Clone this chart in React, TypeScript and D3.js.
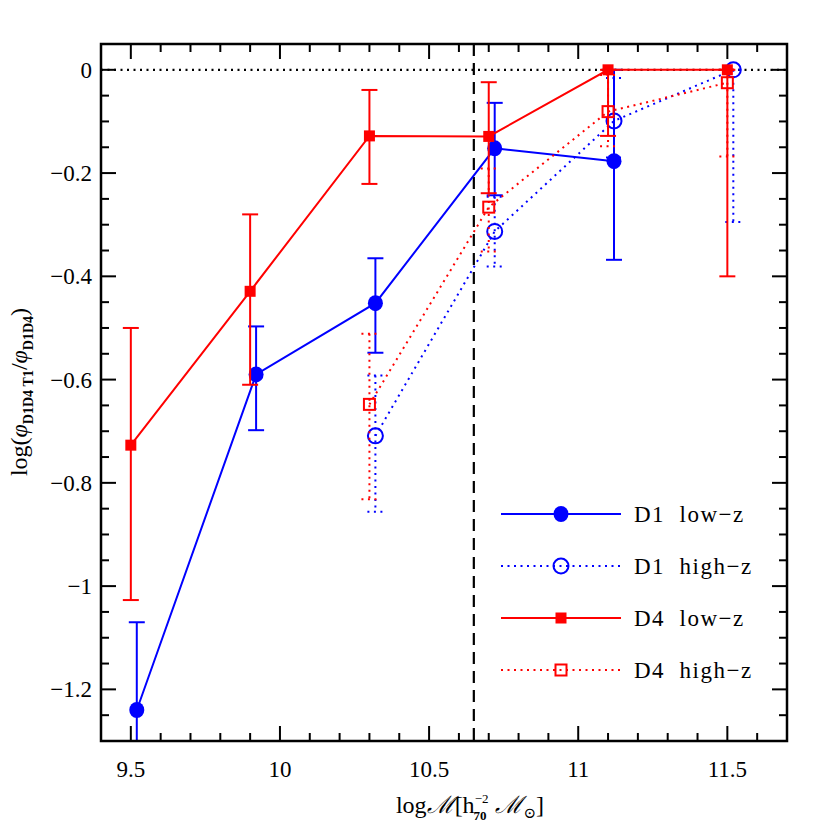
import React from "react"
import * as d3 from "d3"

// mass bins (log M) and log(phi ratio) values
const massD1Low = [9.52, 9.92, 10.32, 10.72, 11.12]
const ratioD1Low = [-1.24, -0.59, -0.452, -0.152, -0.177]
const upD1Low = [-1.07, -0.497, -0.365, -0.064, 0.0]
const downD1Low = [-1.45, -0.698, -0.548, -0.243, -0.368]

const massD1High = [10.32, 10.72, 11.12, 11.52]
const ratioD1High = [-0.709, -0.313, -0.099, 0.0]
const upD1High = [-0.592, -0.246, -0.016, 0.0]
const downD1High = [-0.856, -0.381, -0.17, -0.295]

const massD4Low = [9.5, 9.9, 10.3, 10.7, 11.1, 11.5]
const ratioD4Low = [-0.727, -0.429, -0.128, -0.129, 0.0, 0.0]
const upD4Low = [-0.5, -0.28, -0.039, -0.024, 0.0, 0.0]
const downD4Low = [-1.027, -0.61, -0.221, -0.239, -0.128, -0.4]

const massD4High = [10.3, 10.7, 11.1, 11.5]
const ratioD4High = [-0.648, -0.266, -0.081, -0.025]
const upD4High = [-0.511, -0.191, -0.01, 0.0]
const downD4High = [-0.832, -0.352, -0.148, -0.168]

const xTickLabels = [9.5, 10, 10.5, 11, 11.5]
const yTickLabels = [0, -0.2, -0.4, -0.6, -0.8, -1, -1.2]
const massLimit = 10.65

const legendNames = ["D1\u00a0\u00a0low\u2212z", "D1\u00a0\u00a0high\u2212z", "D4\u00a0\u00a0low\u2212z", "D4\u00a0\u00a0high\u2212z"]

const margin = {top: 44, right: 43, bottom: 89, left: 101}
const W = 830, H = 830
const width = W - margin.left - margin.right
const height = H - margin.top - margin.bottom

const BLUE = "#0000ff", RED = "#ff0000"
const DOT = "2 4.5"
const FONT = "'Liberation Serif', 'DejaVu Serif', serif"

const fmt = (v: number) => (v < 0 ? "\u2212" : "") + String(Math.abs(v))

type Series = {
    mass: number[], ratio: number[], up: number[], down: number[],
    color: string, dotted: boolean, marker: string
}

const series: Series[] = [
    {mass: massD1Low, ratio: ratioD1Low, up: upD1Low, down: downD1Low, color: BLUE, dotted: false, marker: "circleFilled"},
    {mass: massD1High, ratio: ratioD1High, up: upD1High, down: downD1High, color: BLUE, dotted: true, marker: "circleOpen"},
    {mass: massD4Low, ratio: ratioD4Low, up: upD4Low, down: downD4Low, color: RED, dotted: false, marker: "squareFilled"},
    {mass: massD4High, ratio: ratioD4High, up: upD4High, down: downD4High, color: RED, dotted: true, marker: "squareOpen"},
]

const Marker = ({kind, cx, cy, color}: {kind: string, cx: number, cy: number, color: string}) => {
    if (kind === "circleFilled") return <ellipse cx={cx} cy={cy} rx={7.5} ry={8} fill={color}/>
    if (kind === "circleOpen") return <circle cx={cx} cy={cy} r={7.5} fill="none" stroke={color} strokeWidth={2}/>
    if (kind === "squareFilled") return <rect x={cx - 5.5} y={cy - 5.5} width={11} height={11} fill={color}/>
    return <rect x={cx - 5.5} y={cy - 5.5} width={11} height={11} fill="none" stroke={color} strokeWidth={2}/>
}

export default function App() {
    const x = d3.scaleLinear().domain([9.4, 11.7]).range([0, width])
    const y = d3.scaleLinear().domain([-1.3, 0.05]).range([height, 0])

    const xMinor = d3.range(9.4, 11.701, 0.1)
    const yMinor = d3.range(-1.3, 0.0501, 0.05)
    const isMajor = (v: number, step: number) => Math.abs(v / step - Math.round(v / step)) < 1e-6

    return (
        <svg width={W} height={H} style={{position: "absolute", left: 0, top: 0, background: "#fff"}}
             fontFamily={FONT}>
            <defs>
                <clipPath id="plotArea"><rect x={0} y={0} width={width} height={height}/></clipPath>
            </defs>
            <g transform={`translate(${margin.left},${margin.top})`}>
                <g clipPath="url(#plotArea)">
                    {/* reference lines */}
                    <line x1={0} x2={width} y1={y(0)} y2={y(0)} stroke="#000" strokeWidth={2.2} strokeDasharray="2 4.5"/>
                    <line x1={x(massLimit)} x2={x(massLimit)} y1={0} y2={height} stroke="#000" strokeWidth={2.2} strokeDasharray="12 7"/>

                    {series.map((s, si) => {
                        const pts = s.mass.map((m, i) => [x(m), y(s.ratio[i])] as [number, number])
                        const dash = s.dotted ? DOT : undefined
                        return (
                            <g key={si}>
                                <path d={d3.line()(pts) || ""} fill="none" stroke={s.color} strokeWidth={2}
                                      strokeDasharray={dash}/>
                                {s.mass.map((m, i) => (
                                    <g key={i} stroke={s.color} strokeWidth={2} strokeDasharray={dash}>
                                        <line x1={x(m)} x2={x(m)} y1={y(s.up[i])} y2={y(s.down[i])}/>
                                        <line x1={x(m) - 8} x2={x(m) + 8} y1={y(s.up[i])} y2={y(s.up[i])}/>
                                        <line x1={x(m) - 8} x2={x(m) + 8} y1={y(s.down[i])} y2={y(s.down[i])}/>
                                    </g>
                                ))}
                                {pts.map((p, i) => <Marker key={i} kind={s.marker} cx={p[0]} cy={p[1]} color={s.color}/>)}
                            </g>
                        )
                    })}
                </g>

                {/* ticks on all four sides */}
                {xMinor.map((v, i) => {
                    const len = isMajor(v, 0.5) ? 15 : 8
                    return (
                        <g key={"xt" + i} stroke="#000" strokeWidth={2}>
                            <line x1={x(v)} x2={x(v)} y1={height} y2={height - len}/>
                            <line x1={x(v)} x2={x(v)} y1={0} y2={len}/>
                        </g>
                    )
                })}
                {yMinor.map((v, i) => {
                    const len = isMajor(v, 0.2) ? 15 : 8
                    return (
                        <g key={"yt" + i} stroke="#000" strokeWidth={2}>
                            <line x1={0} x2={len} y1={y(v)} y2={y(v)}/>
                            <line x1={width} x2={width - len} y1={y(v)} y2={y(v)}/>
                        </g>
                    )
                })}
                <rect x={0} y={0} width={width} height={height} fill="none" stroke="#000" strokeWidth={2.5}/>

                {xTickLabels.map(v => (
                    <text key={v} x={x(v)} y={height + 36} textAnchor="middle" fontSize={23}>{fmt(v)}</text>
                ))}
                {yTickLabels.map(v => (
                    <text key={v} x={-9} y={y(v) + 8} textAnchor="end" fontSize={23}>{fmt(v)}</text>
                ))}

                {/* legend */}
                {series.map((s, i) => {
                    const ly = 470 + i * 52
                    return (
                        <g key={"lg" + i}>
                            <line x1={400} x2={520} y1={ly} y2={ly} stroke={s.color} strokeWidth={2}
                                  strokeDasharray={s.dotted ? DOT : undefined}/>
                            <Marker kind={s.marker} cx={460} cy={ly} color={s.color}/>
                            <text x={533} y={ly + 8} fontSize={23} letterSpacing={1.5}>{legendNames[i]}</text>
                        </g>
                    )
                })}
            </g>

            {/* axis titles */}
            <text x={470} y={813} textAnchor="middle" fontSize={24}>
                <tspan>log</tspan><tspan fontStyle="italic">{"\u2133"}</tspan><tspan>[h</tspan>
                <tspan fontSize={13} dy={-10}>{"\u22122"}</tspan>
                <tspan fontSize={13} fontWeight="bold" dx={-15} dy={17}>70</tspan>
                <tspan fontStyle="italic" dx={9} dy={-7}>{"\u2133"}</tspan>
                <tspan fontSize={15} dy={5}>{"\u2299"}</tspan><tspan dy={-5}>]</tspan>
            </text>
            <text transform="translate(27,392) rotate(-90)" textAnchor="middle" fontSize={24}>
                <tspan>log(</tspan><tspan fontStyle="italic">{"\u03c6"}</tspan>
                <tspan fontSize={14} fontWeight="bold" dy={6}>{"D1D4\u00a0T1"}</tspan>
                <tspan dy={-6}>/</tspan><tspan fontStyle="italic">{"\u03c6"}</tspan>
                <tspan fontSize={14} fontWeight="bold" dy={6}>D1D4</tspan>
                <tspan dy={-6}>)</tspan>
            </text>
        </svg>
    )
}
